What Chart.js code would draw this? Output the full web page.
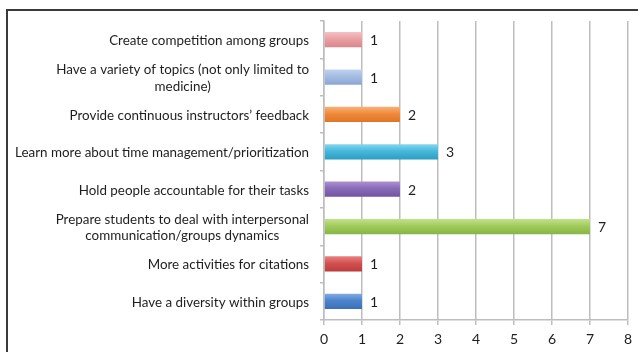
<!DOCTYPE html>
<html>
<head>
<meta charset="utf-8">
<script src="https://cdn.jsdelivr.net/npm/chart.js@4/dist/chart.umd.min.js"></script>
<style>
  body { margin: 0; background: #fff; }
  #wrap { position: relative; width: 638px; height: 352px; overflow: hidden; }
  #frame { position: absolute; left: 6px; top: 9px; width: 700px; height: 400px;
    border-left: 2px solid #3a3a3a; border-top: 2px solid #3a3a3a; }
  canvas { position: absolute; left: 0; top: 0; }
</style>
</head>
<body>
<div id="wrap">
  <div id="frame"></div>
  <canvas id="myChart" width="638" height="352"></canvas>
</div>
<script>
var categories = [
  "Create competition among groups",
  ["Have a variety of topics (not only limited to", "medicine)"],
  "Provide continuous instructors\u2019 feedback",
  "Learn more about time management/prioritization",
  "Hold people accountable for their tasks",
  ["Prepare students to deal with interpersonal", "communication/groups dynamics"],
  "More activities for citations",
  "Have a diversity within groups"
];
var counts = [1, 1, 2, 3, 2, 7, 1, 1];
var xTicks = [0, 1, 2, 3, 4, 5, 6, 7, 8];

// light, mid, dark per bar
var barColors = [
  ["#f6c3c5", "#eaa0a4", "#d8868a"],
  ["#c3d4ef", "#a4bde3", "#8aa6d3"],
  ["#f8b37a", "#f08b3a", "#dc7526"],
  ["#8ad8ef", "#46b9dc", "#2a9cc0"],
  ["#ad94d0", "#8a6ab8", "#7053a0"],
  ["#c4e38e", "#a2cc5e", "#86b443"],
  ["#e88684", "#d35150", "#b93c3b"],
  ["#86aee4", "#4c85cc", "#3a6fb6"]
];

var FONT = "Lato, 'Open Sans', sans-serif";

var barGradient = function (c) {
  var chart = c.chart;
  var col = barColors[c.dataIndex];
  if (!chart.chartArea || !chart.scales.y) return col[1];
  var y = chart.scales.y.getPixelForValue(c.dataIndex);
  var g = chart.ctx.createLinearGradient(0, y - 8, 0, y + 8);
  g.addColorStop(0, col[0]);
  g.addColorStop(0.45, col[1]);
  g.addColorStop(1, col[2]);
  return g;
};

// category labels: lines centred on each other, block right aligned
var yLabels = {
  id: "yLabels",
  afterDraw: function (chart) {
    var ctx = chart.ctx;
    var ys = chart.scales.y;
    var right = ys.right - 15;
    ctx.save();
    ctx.font = "13.4px " + FONT;
    ctx.fillStyle = "#1e1e1e";
    ctx.textAlign = "center";
    ctx.textBaseline = "middle";
    categories.forEach(function (lab, i) {
      var lines = Array.isArray(lab) ? lab : [lab];
      var w = 0;
      lines.forEach(function (l) { w = Math.max(w, ctx.measureText(l).width); });
      var cy = ys.getPixelForValue(i) + 1;
      lines.forEach(function (l, j) {
        ctx.fillText(l, right - w / 2, cy + (j - (lines.length - 1) / 2) * 16.5);
      });
    });
    ctx.restore();
  }
};

// value labels to the right of each bar
var valueLabels = {
  id: "valueLabels",
  afterDatasetsDraw: function (chart) {
    var ctx = chart.ctx;
    var meta = chart.getDatasetMeta(0);
    ctx.save();
    ctx.font = "14px " + FONT;
    ctx.fillStyle = "#1e1e1e";
    ctx.textAlign = "left";
    ctx.textBaseline = "middle";
    meta.data.forEach(function (bar, i) {
      ctx.fillText(String(counts[i]), bar.x + 8, bar.y + 1);
    });
    ctx.restore();
  }
};

var ctx = document.getElementById("myChart").getContext("2d");
var chart = new Chart(ctx, {
  type: "bar",
  data: {
    labels: categories,
    datasets: [{
      data: counts,
      backgroundColor: barGradient,
      borderWidth: 0,
      barPercentage: 0.41,
      categoryPercentage: 1
    }]
  },
  options: {
    indexAxis: "y",
    responsive: false,
    animation: false,
    layout: { padding: { left: 0, right: 6, top: 21, bottom: 0 } },
    plugins: { legend: { display: false }, tooltip: { enabled: false } },
    scales: {
      x: {
        min: 0, max: 8,
        afterBuildTicks: function (s) { s.ticks = xTicks.map(function (v) { return { value: v }; }); },
        afterFit: function (s) { s.height = 32; },
        grid: { color: "#bdbdbd", lineWidth: 1.5, tickLength: 5 },
        border: { color: "#bdbdbd", width: 1.5 },
        ticks: { color: "#1e1e1e", padding: 6, font: { family: FONT, size: 14 } }
      },
      y: {
        afterFit: function (s) { s.width = 324; },
        grid: { offset: true, drawOnChartArea: false, color: "#bdbdbd", lineWidth: 1.5, tickLength: 4 },
        border: { color: "#bdbdbd", width: 1.5 },
        ticks: { display: false }
      }
    }
  },
  plugins: [yLabels, valueLabels]
});
</script>
</body>
</html>
